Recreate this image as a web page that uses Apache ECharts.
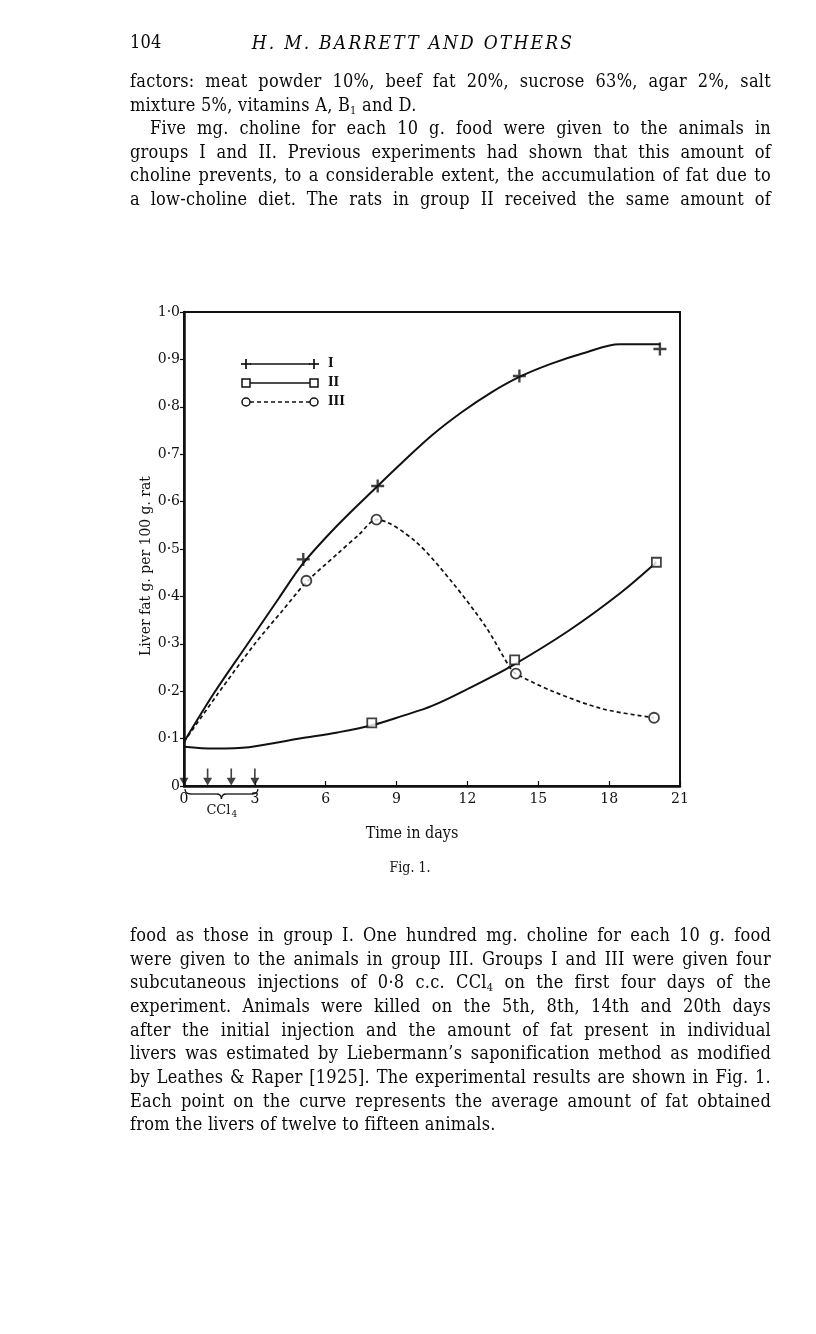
<!DOCTYPE html>
<html>
<head>
<meta charset="utf-8">
<script src="https://cdn.jsdelivr.net/npm/echarts@6/dist/echarts.min.js"></script>
<style>
  html, body { margin:0; padding:0; background:#fff; }
  #page { position:relative; width:816px; height:1334px; background:#fff; overflow:hidden; }
  #chart { position:absolute; left:0; top:0; width:816px; height:1334px; }
  .ln { position:absolute; left:130px; width:641px; height:24px; line-height:24px;
        font-family:"DejaVu Serif Condensed","DejaVu Serif",serif; font-stretch:condensed;
        font-size:18px; letter-spacing:0.25px; color:#0a0a0a; white-space:nowrap; pointer-events:none; }
  .j { text-align:justify; text-align-last:justify; }
  sub { font-size:11px; vertical-align:-3px; line-height:0; }
</style>
</head>
<body>
<div id="page">
  <div id="chart"></div>
</div>
<script>
// ---- data ----
const xTicks = [0, 3, 6, 9, 12, 15, 18, 21];
const injectionDays = [0, 1, 2, 3];
// measured points (day, liver fat g. per 100 g. rat)
const groupI   = [[5.05, 0.478], [8.2, 0.633], [14.2, 0.865], [20.15, 0.922]];
const groupII  = [[7.95, 0.133], [14.0, 0.266], [20.0, 0.472]];
const groupIII = [[5.18, 0.433], [8.15, 0.562], [14.05, 0.237], [19.9, 0.144]];
// hand-drawn curves as traced on the figure
const curveI   = [[0, 0.093], [1.26, 0.195], [2.67, 0.298], [4.0, 0.395], [5.05, 0.47], [6.5, 0.55],
                  [8.2, 0.633], [9.25, 0.683], [10.5, 0.74], [11.8, 0.79], [13, 0.83], [14.2, 0.863],
                  [15.5, 0.89], [16.9, 0.913], [18.45, 0.932], [20.15, 0.932]];
const curveII  = [[0, 0.083], [1.3, 0.079], [2.75, 0.082], [4.9, 0.10], [6.5, 0.113], [7.95, 0.128],
                  [9.25, 0.148], [10.5, 0.169], [12.1, 0.207], [13.9, 0.254], [16.3, 0.328],
                  [18.45, 0.406], [20.0, 0.472]];
const curveIII = [[0, 0.093], [1.44, 0.195], [3.0, 0.3], [4.2, 0.372], [5.18, 0.43], [6.5, 0.49],
                  [7.4, 0.53], [8.15, 0.562], [9.75, 0.518], [11.4, 0.427], [12.8, 0.334], [13.8, 0.25],
                  [14.05, 0.237], [15.6, 0.2], [17.7, 0.163], [19.9, 0.144]];
const legendLabels = ['I', 'II', 'III'];

// ---- page text ----
const headerNumber = '104';
const headerTitle = 'H. M. BARRETT AND OTHERS';
const topLines = [
  ['factors: meat powder 10%, beef fat 20%, sucrose 63%, agar 2%, salt', true, 0],
  ['mixture 5%, vitamins A, B<sub>1</sub> and D.', false, 0],
  ['Five mg. choline for each 10 g. food were given to the animals in', true, 20],
  ['groups I and II.  Previous experiments had shown that this amount of', true, 0],
  ['choline prevents, to a considerable extent, the accumulation of fat due to', true, 0],
  ['a low-choline diet. The rats in group II received the same amount of', true, 0]
];
const bottomLines = [
  ['food as those in group I.  One hundred mg. choline for each 10 g. food', true, 0],
  ['were given to the animals in group III.  Groups I and III were given four', true, 0],
  ['subcutaneous injections of 0·8 c.c. CCl<sub>4</sub> on the first four days of the', true, 0],
  ['experiment.  Animals were killed on the 5th, 8th, 14th and 20th days', true, 0],
  ['after the initial injection and the amount of fat present in individual', true, 0],
  ['livers was estimated by Liebermann\u2019s saponification method as modified', true, 0],
  ['by Leathes &amp; Raper [1925]. The experimental results are shown in Fig. 1.', true, 0],
  ['Each point on the curve represents the average amount of fat obtained', true, 0],
  ['from the livers of twelve to fifteen animals.', false, 0]
];

const page = document.getElementById('page');
function addLine(html, centerY, justify, indent) {
  const d = document.createElement('div');
  d.className = 'ln' + (justify ? ' j' : '');
  d.style.top = (centerY - 12) + 'px';
  if (indent) { d.style.left = (130 + indent) + 'px'; d.style.width = (641 - indent) + 'px'; }
  d.innerHTML = html;
  page.appendChild(d);
}
addLine(headerNumber, 42, false, 0);
(function () {
  const d = document.createElement('div');
  d.className = 'ln';
  d.style.top = '30px'; d.style.left = '130px'; d.style.width = '566px';
  d.style.textAlign = 'center'; d.style.fontStyle = 'italic'; d.style.fontSize = '19px';
  d.style.letterSpacing = '2.2px';
  d.textContent = headerTitle;
  page.appendChild(d);
})();
topLines.forEach((l, i) => addLine(l[0], 81 + i * 23.6, l[1], l[2]));
bottomLines.forEach((l, i) => addLine(l[0], 935 + i * 23.65, l[1], l[2]));

// ---- chart ----
const chart = echarts.init(document.getElementById('chart'), null, { renderer: 'canvas' });
const ink = '#111';
const serif = '"DejaVu Serif", serif';
const serifC = '"DejaVu Serif Condensed", "DejaVu Serif", serif';
const plusPath = 'path://M4.1,0H5.9V4.1H10V5.9H5.9V10H4.1V5.9H0V4.1H4.1Z';
const arrowPath = 'path://M4.1,0H5.9V11H10L5,20L0,11H4.1Z';

const option = {
  animation: false,
  backgroundColor: 'transparent',
  grid: { left: 184, top: 312, width: 496, height: 474, show: true, borderColor: ink, borderWidth: 2, backgroundColor: 'transparent' },
  xAxis: {
    type: 'value', min: 0, max: 21, interval: 3,
    axisLine: { show: true, onZero: false, lineStyle: { color: ink, width: 2.5 } },
    axisTick: { show: true, inside: true, length: 5, lineStyle: { color: ink, width: 1.2 } },
    axisLabel: { color: ink, fontFamily: serif, fontSize: 14, margin: 6,
                 formatter: v => xTicks.indexOf(v) >= 0 ? String(v) : '' },
    splitLine: { show: false }
  },
  yAxis: {
    type: 'value', min: 0, max: 1, interval: 0.1,
    axisLine: { show: true, onZero: false, lineStyle: { color: ink, width: 2.5 } },
    axisTick: { show: true, inside: false, length: 4, lineStyle: { color: ink, width: 1.2 } },
    axisLabel: { color: ink, fontFamily: serif, fontSize: 14, margin: 4,
                 formatter: v => v === 0 ? '0' : v.toFixed(1).replace('.', '\u00b7') },
    splitLine: { show: false }
  },
  series: [
    { name: 'I curve', type: 'line', data: curveI, smooth: 0.35, showSymbol: false, silent: true,
      lineStyle: { color: ink, width: 2 }, z: 2 },
    { name: 'II curve', type: 'line', data: curveII, smooth: 0.35, showSymbol: false, silent: true,
      lineStyle: { color: ink, width: 2 }, z: 2 },
    { name: 'III curve', type: 'line', data: curveIII, smooth: 0.3, showSymbol: false, silent: true,
      lineStyle: { color: ink, width: 1.7, type: [4, 3] }, z: 2 },
    { name: 'I', type: 'scatter', data: groupI, symbol: plusPath, symbolSize: 13,
      itemStyle: { color: ink }, z: 5 },
    { name: 'II', type: 'scatter', data: groupII, symbol: 'rect', symbolSize: 9,
      itemStyle: { color: '#fff', borderColor: ink, borderWidth: 1.8 }, z: 5 },
    { name: 'III', type: 'scatter', data: groupIII, symbol: 'circle', symbolSize: 10,
      itemStyle: { color: '#fff', borderColor: ink, borderWidth: 1.8 }, z: 5 },
    { name: 'CCl4 injections', type: 'scatter', data: injectionDays.map(d => [d, 0]),
      symbol: arrowPath, symbolSize: [9, 17], symbolOffset: [0, -9], itemStyle: { color: ink }, z: 6 }
  ]
};
chart.setOption(option);

// ---- annotations (legend, brace, titles) ----
const p0 = chart.convertToPixel({ gridIndex: 0 }, [0, 0]);
const p3 = chart.convertToPixel({ gridIndex: 0 }, [3, 0]);
const bx0 = p0[0] + 1, bx1 = p3[0] + 3, by = p0[1] + 3, mid = (bx0 + bx1) / 2;
const braceStroke = { fill: null, stroke: ink, lineWidth: 1.3 };
const braceEls = [
  { type: 'bezierCurve', shape: { x1: bx0, y1: by, x2: bx0 + 6, y2: by + 5, cpx1: bx0, cpy1: by + 5 }, style: braceStroke },
  { type: 'line', shape: { x1: bx0 + 6, y1: by + 5, x2: mid - 5, y2: by + 5 }, style: braceStroke },
  { type: 'bezierCurve', shape: { x1: mid - 5, y1: by + 5, x2: mid, y2: by + 10, cpx1: mid, cpy1: by + 5 }, style: braceStroke },
  { type: 'bezierCurve', shape: { x1: mid, y1: by + 10, x2: mid + 5, y2: by + 5, cpx1: mid, cpy1: by + 5 }, style: braceStroke },
  { type: 'line', shape: { x1: mid + 5, y1: by + 5, x2: bx1 - 6, y2: by + 5 }, style: braceStroke },
  { type: 'bezierCurve', shape: { x1: bx1 - 6, y1: by + 5, x2: bx1, y2: by, cpx1: bx1, cpy1: by + 5 }, style: braceStroke }
];

const lg = { x1: 246, x2: 314, lx: 328, y0: 364, dy: 19 };
const legendEls = [];
legendLabels.forEach((lab, i) => {
  const y = lg.y0 + i * lg.dy;
  legendEls.push({ type: 'line', shape: { x1: lg.x1 + 4, y1: y, x2: lg.x2 - 4, y2: y },
    style: { stroke: ink, lineWidth: 1.4, lineDash: i === 2 ? [4, 3] : null } });
  [lg.x1, lg.x2].forEach(x => {
    if (i === 0) {
      legendEls.push({ type: 'line', shape: { x1: x - 5, y1: y, x2: x + 5, y2: y }, style: { stroke: ink, lineWidth: 1.7 } });
      legendEls.push({ type: 'line', shape: { x1: x, y1: y - 5, x2: x, y2: y + 5 }, style: { stroke: ink, lineWidth: 1.7 } });
    } else if (i === 1) {
      legendEls.push({ type: 'rect', shape: { x: x - 4, y: y - 4, width: 8, height: 8 }, style: { fill: '#fff', stroke: ink, lineWidth: 1.5 } });
    } else {
      legendEls.push({ type: 'circle', shape: { cx: x, cy: y, r: 4 }, style: { fill: '#fff', stroke: ink, lineWidth: 1.5 } });
    }
  });
  legendEls.push({ type: 'text', x: lg.lx, y: y, style: { text: lab, font: `bold 12px ${serif}`, fill: ink, textAlign: 'left', textVerticalAlign: 'middle' } });
});

chart.setOption({
  graphic: [
    ...legendEls,
    ...braceEls,
    { type: 'text', x: mid - 3, y: by + 22, style: { text: 'CCl', font: `13px ${serif}`, fill: ink, textAlign: 'center', textVerticalAlign: 'middle' } },
    { type: 'text', x: mid + 10, y: by + 26, style: { text: '4', font: `9px ${serif}`, fill: ink, textAlign: 'left', textVerticalAlign: 'middle' } },
    { type: 'text', x: 146, y: 566, rotation: Math.PI / 2,
      style: { text: 'Liver fat g. per 100 g. rat', font: `15.5px ${serifC}`, fill: ink, textAlign: 'center', textVerticalAlign: 'middle' } },
    { type: 'text', x: 412, y: 834, style: { text: 'Time in days', font: `16px ${serifC}`, fill: ink, textAlign: 'center', textVerticalAlign: 'middle' } },
    { type: 'text', x: 410, y: 868, style: { text: 'Fig. 1.', font: `14px ${serifC}`, fill: ink, textAlign: 'center', textVerticalAlign: 'middle' } }
  ]
});
</script>
</body>
</html>
